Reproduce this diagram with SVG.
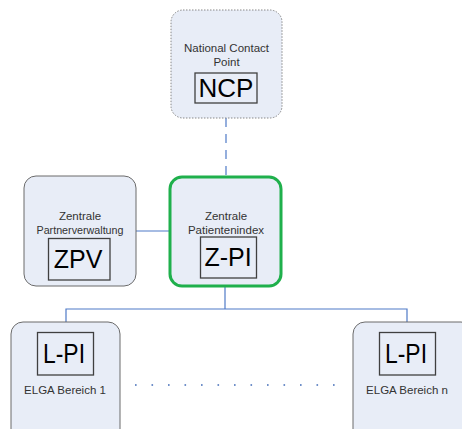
<svg xmlns="http://www.w3.org/2000/svg" width="462" height="429" viewBox="0 0 462 429">
<style>
.box{fill:#e8edf7;stroke:#6b6b6b;stroke-width:1}
.inner{fill:none;stroke:#404040;stroke-width:1.3}
.lbl{font-family:"Liberation Sans",Arial,sans-serif;font-size:11.5px;fill:#333;text-anchor:middle}
.big{font-family:"Liberation Sans",Arial,sans-serif;font-size:25px;fill:#000;text-anchor:middle}
.conn{fill:none;stroke:#4f7ac7;stroke-width:1.2}
</style>
<rect width="462" height="429" fill="#fff"/>
<g id="connectors">
<line class="conn" x1="226" y1="118" x2="226" y2="176" stroke-dasharray="9,7" stroke-width="1.6"/>
<line class="conn" x1="136" y1="231" x2="169" y2="231"/>
<polyline class="conn" points="225,287 225,309"/>
<polyline class="conn" points="66,333 66,309 407,309 407,333"/>
<line x1="135" y1="385" x2="336" y2="385" stroke="#6f8fc9" stroke-dasharray="1.6,14.9" stroke-width="2"/>
</g>
<g id="ncp">
<rect x="171" y="10" width="111" height="108" rx="12" class="box" stroke-dasharray="1.5,1.5" style="stroke:#888"/>
<text class="lbl" x="226.5" y="52">National Contact</text>
<text class="lbl" x="226.5" y="66">Point</text>
<rect class="inner" x="195" y="73" width="62" height="30"/>
<text class="big" x="226" y="97" style="font-size:26px">NCP</text>
</g>
<g id="zpv">
<rect x="24" y="176" width="112" height="110" rx="12" class="box"/>
<text class="lbl" x="80" y="220">Zentrale</text>
<text class="lbl" x="80" y="234" textLength="87" lengthAdjust="spacingAndGlyphs">Partnerverwaltung</text>
<rect class="inner" x="48.5" y="238.5" width="61.5" height="41.5"/>
<text class="big" x="78" y="268">ZPV</text>
</g>
<g id="zpi">
<rect x="170" y="177" width="111" height="109" rx="12" class="box" style="stroke:#1fb04c;stroke-width:3"/>
<text class="lbl" x="226" y="220">Zentrale</text>
<text class="lbl" x="226" y="234">Patientenindex</text>
<rect class="inner" x="200.5" y="237" width="56" height="41"/>
<text class="big" x="228" y="266">Z-PI</text>
</g>
<g id="elga1">
<rect x="11" y="322" width="109" height="120" rx="12" class="box"/>
<rect class="inner" x="37.5" y="332.5" width="56" height="42.5"/>
<text class="big" x="64" y="363" style="font-size:28px" textLength="42" lengthAdjust="spacingAndGlyphs">L-PI</text>
<text class="lbl" x="65" y="394">ELGA Bereich 1</text>
</g>
<g id="elgan">
<rect x="353" y="322" width="120" height="120" rx="12" class="box"/>
<rect class="inner" x="379.5" y="332.5" width="56" height="42.5"/>
<text class="big" x="406" y="363" style="font-size:28px" textLength="42" lengthAdjust="spacingAndGlyphs">L-PI</text>
<text class="lbl" x="407" y="394">ELGA Bereich n</text>
</g>
</svg>
